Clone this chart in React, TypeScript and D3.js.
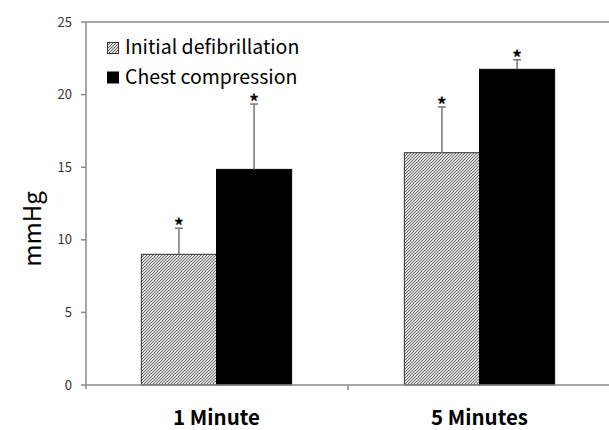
import React from "react";
import * as d3 from "d3";

const categories = ["1 Minute", "5 Minutes"];
const series = ["Initial defibrillation", "Chest compression"];
const initialValues = [9.0, 16.0];
const initialErrors = [1.8, 3.15];
const chestValues = [14.85, 21.74];
const chestErrors = [4.5, 0.66];
const yTicks = [0, 5, 10, 15, 20, 25];

const W = 609;
const H = 430;

export default function App() {
  const y = d3.scaleLinear().domain([0, 25]).range([385, 22]);
  const x0 = d3.scaleBand<string>().domain(categories).range([85, 611]).paddingInner(0).paddingOuter(0);
  const x1 = d3
    .scaleBand<string>()
    .domain(series)
    .range([0, x0.bandwidth()])
    .paddingInner(0)
    .paddingOuter(0.75);

  const data = [
    { s: series[0], values: initialValues, errors: initialErrors, fill: "url(#hatch)", stroke: "#333" },
    { s: series[1], values: chestValues, errors: chestErrors, fill: "#000", stroke: "#000" },
  ];
  const axisColor = "#8a8a8a";
  const font = "'Noto Sans CJK KR', 'Noto Sans', sans-serif";

  return (
    <svg width={W} height={H} style={{ position: "absolute", left: 0, top: 0, background: "#fff" }}>
      <defs>
        <pattern id="hatch" patternUnits="userSpaceOnUse" x={0} y={0} width={3} height={3}>
          <rect x={0} y={0} width={3} height={3} fill="#dcdcdc" />
          <rect x={0} y={2} width={1} height={1} fill="#6e6e6e" />
          <rect x={1} y={1} width={1} height={1} fill="#6e6e6e" />
          <rect x={2} y={0} width={1} height={1} fill="#6e6e6e" />
        </pattern>
      </defs>
      <rect x={0} y={0} width={W} height={H} fill="#fff" />

      {/* bars */}
      {data.map((d) =>
        categories.map((c, i) => {
          const bx = (x0(c) as number) + (x1(d.s) as number);
          const bw = x1.bandwidth();
          const top = y(d.values[i]);
          return (
            <rect
              key={d.s + c}
              x={bx}
              y={top}
              width={bw}
              height={y(0) - top}
              fill={d.fill}
              stroke={d.stroke}
              strokeWidth={1}
            />
          );
        })
      )}

      {/* error bars + stars */}
      {data.map((d) =>
        categories.map((c, i) => {
          const cx = (x0(c) as number) + (x1(d.s) as number) + x1.bandwidth() / 2;
          const top = y(d.values[i]);
          const et = y(d.values[i] + d.errors[i]);
          return (
            <g key={"e" + d.s + c}>
              <line x1={cx} x2={cx} y1={top} y2={et} stroke="#777" strokeWidth={1.5} />
              <line x1={cx - 4} x2={cx + 4} y1={et} y2={et} stroke="#777" strokeWidth={1.5} />
              <text x={cx} y={et + 5} textAnchor="middle" fontFamily={font} fontSize={19} fontWeight="bold" fill="#000">
                *
              </text>
            </g>
          );
        })
      )}

      {/* axes */}
      <line x1={86} x2={W} y1={y(25)} y2={y(25)} stroke={axisColor} strokeWidth={1.5} />
      <line x1={86} x2={86} y1={y(25)} y2={y(0) + 4} stroke={axisColor} strokeWidth={1.5} />
      <line x1={86} x2={W} y1={y(0)} y2={y(0)} stroke={axisColor} strokeWidth={1.5} />
      {yTicks.map((t) => (
        <g key={t}>
          <line x1={81} x2={86} y1={y(t)} y2={y(t)} stroke={axisColor} strokeWidth={1.5} />
          <text x={72} y={y(t) + 4.5} textAnchor="end" fontFamily={font} fontSize={13} fill="#333">
            {t}
          </text>
        </g>
      ))}
      {categories.slice(1).map((c) => (
        <line key={c} x1={x0(c)} x2={x0(c)} y1={y(0)} y2={y(0) + 5} stroke={axisColor} strokeWidth={1.5} />
      ))}

      {/* category labels */}
      {categories.map((c) => (
        <text
          key={c}
          x={(x0(c) as number) + x0.bandwidth() / 2}
          y={425}
          textAnchor="middle"
          fontFamily={font}
          fontSize={20.5}
          fontWeight="bold"
          fill="#000"
        >
          {c}
        </text>
      ))}

      {/* y label */}
      <text
        transform="translate(41,229) rotate(-90)"
        textAnchor="middle"
        fontFamily={font}
        fontSize={24}
        fill="#000"
      >
        mmHg
      </text>

      {/* legend */}
      {data.map((d, i) => (
        <g key={"l" + d.s}>
          <rect x={107.5} y={42.5 + i * 29.5} width={11} height={11} fill={d.fill} stroke={d.stroke} strokeWidth={1} />
          <text x={125} y={54 + i * 29.5} fontFamily={font} fontSize={19.5} fill="#000">
            {d.s}
          </text>
        </g>
      ))}
    </svg>
  );
}
